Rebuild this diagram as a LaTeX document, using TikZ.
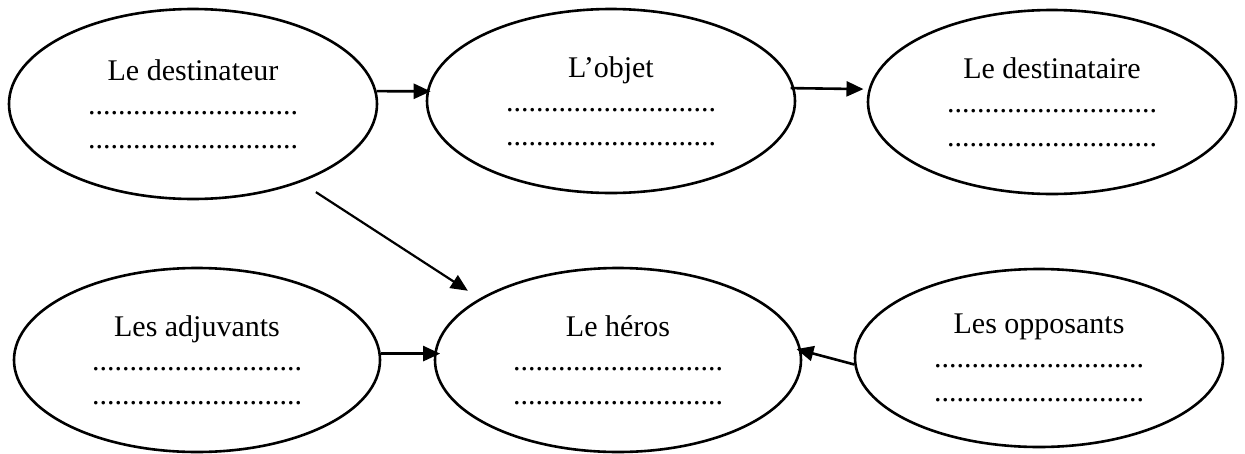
\documentclass[tikz,border=0pt]{standalone}
\usepackage{fontspec}
\setmainfont{Liberation Serif}
\usetikzlibrary{shapes.geometric,arrows.meta}
\newcommand{\pointilles}{............................}
\tikzset{
  actant/.style={draw,ellipse,line width=2.6pt,inner sep=0pt,
    minimum width=368pt,minimum height=184pt,align=center,
    font=\fontsize{30}{34}\selectfont},
  fleche/.style={-{Triangle[length=17pt,width=15pt]},line width=2.6pt}
}
\begin{document}
\begin{tikzpicture}[x=1pt,y=-1pt]
  \useasboundingbox (0,0) rectangle (1245,453);
  % axe du haut
  \node[actant,minimum height=190pt] (dest) at (193,104) {Le destinateur\\\pointilles\\\pointilles};
  \node[actant] (objet) at (611,101) {L’objet\\\pointilles\\\pointilles};
  \node[actant] (dire) at (1052,102) {Le destinataire\\\pointilles\\\pointilles};
  % axe du bas
  \node[actant,minimum width=366pt] (adj) at (197,360) {Les adjuvants\\\pointilles\\\pointilles};
  \node[actant,minimum width=366pt] (heros) at (618,360) {Le héros\\\pointilles\\\pointilles};
  \node[actant,minimum height=178pt] (opp) at (1039,358) {Les opposants\\\pointilles\\\pointilles};
  % fleches
  \draw[fleche,shorten >=-4pt] (dest.4) -- (objet.177);
  \draw[fleche,shorten <=-4pt,shorten >=5pt] (objet.4) -- (dire.176);
  \draw[fleche,line width=2.2pt,shorten <=18pt,shorten >=14pt] (dest.-36.6) -- (heros.156.9);
  \draw[fleche,shorten >=-6pt] (adj.2) -- (heros.178);
  \draw[fleche,shorten >=-5pt] (opp.182) -- (heros.3);
\end{tikzpicture}
\end{document}
